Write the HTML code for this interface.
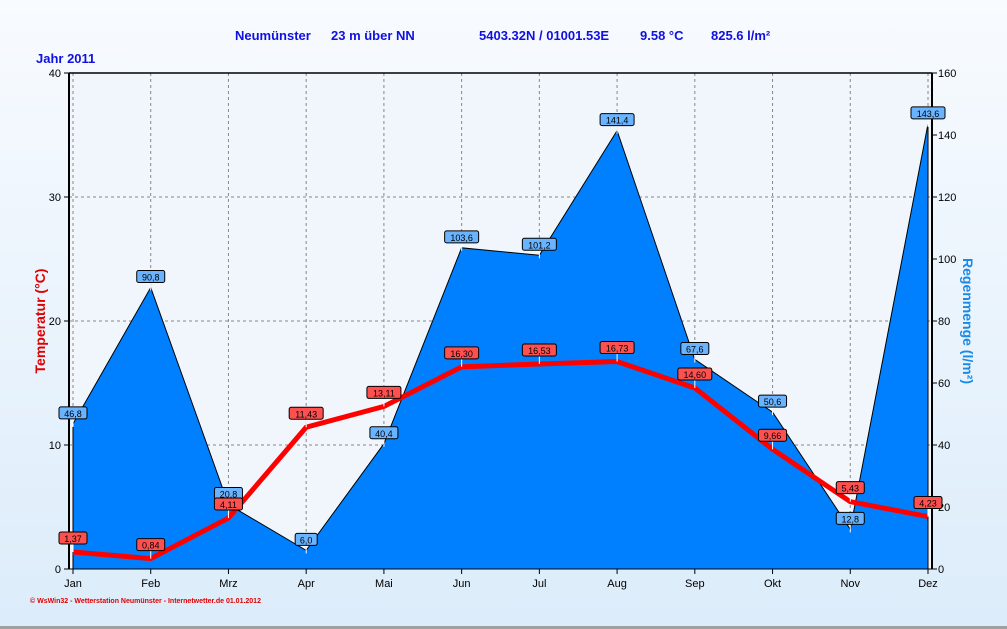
<!DOCTYPE html>
<html><head><meta charset="utf-8"><style>
body{margin:0;width:1007px;height:629px;overflow:hidden;font-family:"Liberation Sans",sans-serif}
svg{display:block}
</style></head><body>
<svg id="c" width="1007" height="629">
<defs><linearGradient id="bg" x1="0" y1="0" x2="0" y2="1"><stop offset="0" stop-color="#f8fbff"/><stop offset="1" stop-color="#dcecfa"/></linearGradient></defs>
<rect width="1007" height="629" fill="url(#bg)"/>
<rect x="0" y="626" width="1007" height="3" fill="#a0a0a0"/>
<rect x="69" y="73" width="863" height="496" fill="#f0f6fc"/>
<g font-weight="bold" font-size="13" fill="#1010e0">
<text x="235" y="40">Neumünster</text><text x="331" y="40">23 m über NN</text>
<text x="479" y="40">5403.32N / 01001.53E</text><text x="640" y="40">9.58 °C</text><text x="711" y="40">825.6 l/m²</text>
<text x="36" y="63">Jahr  2011</text></g>
<text x="0" y="0" transform="translate(45,321) rotate(-90)" text-anchor="middle" font-weight="bold" font-size="14" fill="#e00000">Temperatur  (°C)</text>
<text x="0" y="0" transform="translate(963,321) rotate(90)" text-anchor="middle" font-weight="bold" font-size="14" fill="#1a8ae8">Regenmenge  (l/m²)</text>
<text x="30" y="603" font-size="7" fill="#e00000" font-weight="bold">© WsWin32 - Wetterstation Neumünster - Internetwetter.de  01.01.2012</text>
<g id="g"></g>
</svg>
<script>
const months=["Jan","Feb","Mrz","Apr","Mai","Jun","Jul","Aug","Sep","Okt","Nov","Dez"];
const rain=[46.8,90.8,20.8,6.0,40.4,103.6,101.2,141.4,67.6,50.6,12.8,143.6];
const temp=[1.37,0.84,4.11,11.43,13.11,16.30,16.53,16.73,14.60,9.66,5.43,4.23];
const tempTicks=[0,10,20,30,40];
const rainTicks=[0,20,40,60,80,100,120,140,160];
const NS="http://www.w3.org/2000/svg";
const g=document.getElementById('g');
const X=i=>73+i*(928-73)/(months.length-1);
const YT=v=>569-v*(496/40);
const YR=v=>569-v*(496/160);
function el(t,a,p){const e=document.createElementNS(NS,t);for(const k in a)e.setAttribute(k,a[k]);(p||g).appendChild(e);return e;}
// grid
for(let i=0;i<months.length;i++){const l=el('line',{x1:X(i),x2:X(i),y1:73,y2:569,stroke:'#888','stroke-dasharray':'3,3'});
}
tempTicks.forEach(v=>{if(v>0&&v<40){const l=el('line',{x1:69,x2:932,y1:YT(v),y2:YT(v),stroke:'#888','stroke-dasharray':'3,3'});
}});
// area
let d='M'+X(0)+','+YR(0);rain.forEach((v,i)=>d+=' L'+X(i)+','+YR(v));d+=' L'+X(rain.length-1)+','+YR(0)+'Z';
const a=el('path',{d:d,fill:'#0080ff',stroke:'#000','stroke-width':1});

// temp line
const pl=el('polyline',{points:temp.map((v,i)=>X(i)+','+YT(v)).join(' '),fill:'none',stroke:'#ff0000','stroke-width':5});

// axes
el('line',{x1:69,x2:932,y1:73,y2:73,stroke:'#000','stroke-width':1.5});
el('line',{x1:69,x2:932,y1:569,y2:569,stroke:'#000','stroke-width':1});
el('line',{x1:69,x2:69,y1:73,y2:569,stroke:'#000','stroke-width':2});
el('line',{x1:932,x2:932,y1:73,y2:569,stroke:'#000','stroke-width':2});
tempTicks.forEach(v=>{el('line',{x1:64,x2:69,y1:YT(v),y2:YT(v),stroke:'#000'});
const t=el('text',{x:61,y:YT(v)+4,'text-anchor':'end','font-size':11});t.textContent=v;
});
rainTicks.forEach(v=>{el('line',{x1:932,x2:937,y1:YR(v),y2:YR(v),stroke:'#000'});
const t=el('text',{x:938,y:YR(v)+4,'font-size':11});t.textContent=v;
});
months.forEach((m,i)=>{el('line',{x1:X(i),x2:X(i),y1:569,y2:574,stroke:'#000'});
const t=el('text',{x:X(i),y:587,'text-anchor':'middle','font-size':11});t.textContent=m;
});
function label(x,y,txt,fill,name){const w=txt.length*6+4;
el('line',{x1:x,x2:x,y1:y,y2:y+8,stroke:'#fff'});
const r=el('rect',{x:x-w/2,y:y-12,width:w,height:12,rx:2,fill:fill,stroke:'#000'});

const t=el('text',{x:x,y:y-2,'text-anchor':'middle','font-size':9});t.textContent=txt;
}
rain.forEach((v,i)=>label(X(i),YR(v)-5,v.toFixed(1).replace('.',','),'#6ab4ff','rain-value-label'));
temp.forEach((v,i)=>label(X(i),YT(v)-8,v.toFixed(2).replace('.',','),'#ff5050','temp-value-label'));
</script>
</body></html>
